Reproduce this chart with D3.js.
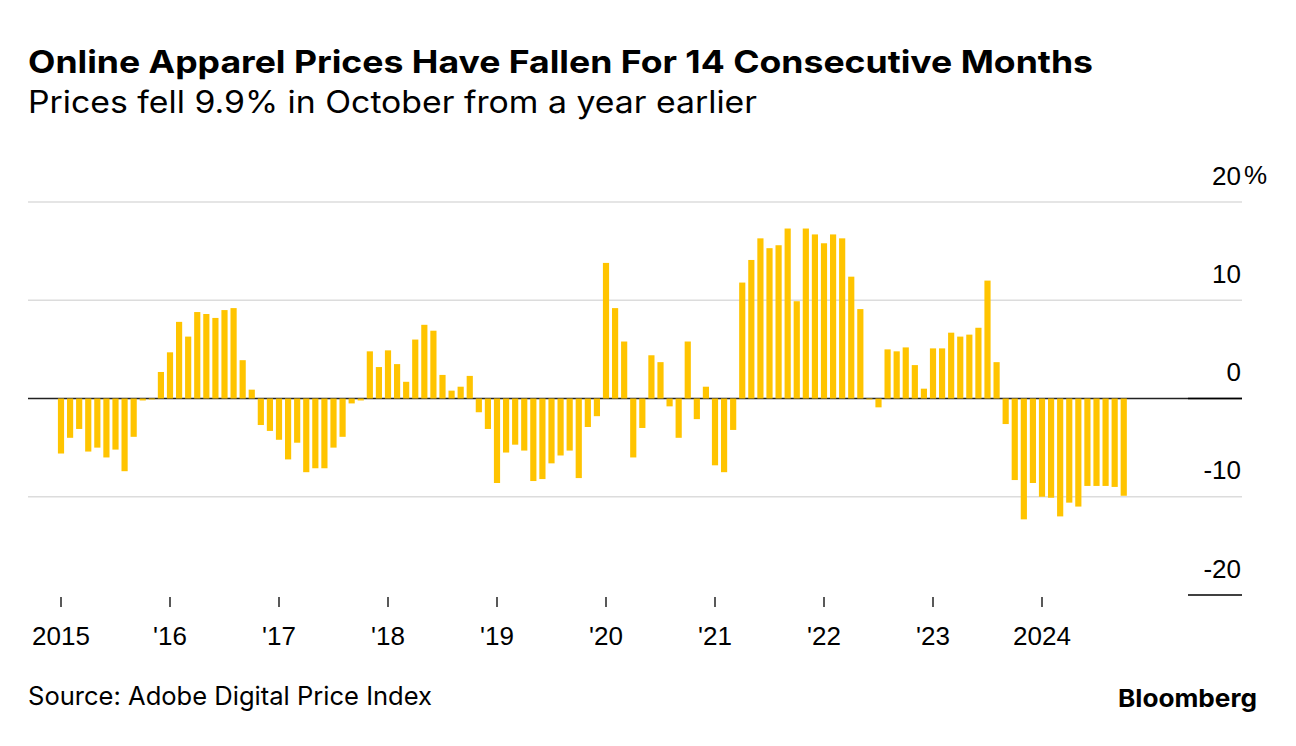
<!DOCTYPE html>
<html>
<head>
<meta charset="utf-8">
<script src="https://cdn.jsdelivr.net/npm/d3@7"></script>
<style>
  html, body { margin: 0; padding: 0; background: #fff; }
  svg { display: block; }
</style>
</head>
<body>
<svg id="chart" width="1296" height="746"></svg>
<script>
// ---------------- DATA ----------------
const titleText = "Online Apparel Prices Have Fallen For 14 Consecutive Months";
const subtitleText = "Prices fell 9.9% in October from a year earlier";
const sourceText = "Source: Adobe Digital Price Index";
const brandText = "Bloomberg";

// Monthly YoY % change, Jan 2015 .. Oct 2024
const firstMonth = "2015-01";
const changePct = [
  // 2015
  -5.6, -4.0, -3.1, -5.4, -5.0, -6.0, -5.2, -7.4, -3.9, -0.2, -0.1, 2.7,
  // 2016
  4.7, 7.8, 6.3, 8.8, 8.6, 8.2, 9.0, 9.2, 3.9, 0.9, -2.7, -3.3,
  // 2017
  -4.2, -6.2, -4.5, -7.5, -7.1, -7.1, -5.0, -3.9, -0.5, -0.2, 4.8, 3.2,
  // 2018
  4.9, 3.5, 1.7, 6.0, 7.5, 6.9, 2.4, 0.8, 1.2, 2.3, -1.4, -3.1,
  // 2019
  -8.6, -5.5, -4.7, -5.3, -8.4, -8.2, -6.6, -5.8, -5.3, -8.1, -2.9, -1.8,
  // 2020
  13.8, 9.2, 5.8, -6.0, -3.0, 4.4, 3.7, -0.8, -4.0, 5.8, -2.1, 1.2,
  // 2021
  -6.8, -7.5, -3.2, 11.8, 14.1, 16.3, 15.3, 15.6, 17.3, 9.9, 17.3, 16.7,
  // 2022
  15.8, 16.7, 16.3, 12.4, 9.1, -0.1, -0.9, 5.0, 4.8, 5.2, 3.4, 1.0,
  // 2023
  5.1, 5.1, 6.7, 6.3, 6.5, 7.2, 12.0, 3.7, -2.6, -8.3, -12.3, -8.6,
  // 2024
  -10.0, -10.1, -12.0, -10.6, -11.0, -8.9, -8.9, -8.9, -9.0, -9.9
];

const xTickYears = [2015, 2016, 2017, 2018, 2019, 2020, 2021, 2022, 2023, 2024];
const xTickLabels = ["2015", "'16", "'17", "'18", "'19", "'20", "'21", "'22", "'23", "2024"];
const yTickValues = [20, 10, 0, -10, -20];
const yTickLabels = ["20", "10", "0", "-10", "-20"];

// ---------------- LAYOUT ----------------
const svg = d3.select("#chart");
const plotLeft = 28, plotRight = 1242;
const barColor = "#FFC400";
const fontUI = "Inter, 'Liberation Sans', Arial, sans-serif";
const fontAxis = "'Liberation Sans', Arial, sans-serif";

const startYear = +firstMonth.slice(0, 4);
const monthIndex = (year) => (year - startYear) * 12;

const x = d3.scaleLinear()
  .domain([monthIndex(2015), monthIndex(2024)])
  .range([61, 1042]);
const step = x(1) - x(0);
const barW = step * 0.68;

const y = d3.scaleLinear().domain([-20, 20]).range([595, 202]);

// Title / subtitle
svg.append("text")
  .attr("x", 28).attr("y", 73)
  .attr("font-family", fontUI).attr("font-weight", 700).attr("font-size", 31.5)
  .attr("fill", "#000")
  .attr("textLength", 1065).attr("lengthAdjust", "spacingAndGlyphs")
  .text(titleText);

svg.append("text")
  .attr("x", 28).attr("y", 112.5)
  .attr("font-family", fontUI).attr("font-weight", 400).attr("font-size", 30.5)
  .attr("fill", "#000")
  .attr("textLength", 729).attr("lengthAdjust", "spacingAndGlyphs")
  .text(subtitleText);

// Gridlines
const gridVals = yTickValues.filter(v => v !== 0 && v !== -20);
svg.append("g").selectAll("line").data(gridVals).join("line")
  .attr("x1", plotLeft).attr("x2", plotRight)
  .attr("y1", d => y(d)).attr("y2", d => y(d))
  .attr("stroke", "#dcdcdc").attr("stroke-width", 1.5);

// Zero line
svg.append("line")
  .attr("x1", plotLeft).attr("x2", plotRight)
  .attr("y1", y(0)).attr("y2", y(0))
  .attr("stroke", "#222").attr("stroke-width", 1.5);

// Short marker line at bottom tick and zero
svg.append("g").selectAll("line").data([0, -20]).join("line")
  .attr("x1", 1188).attr("x2", plotRight)
  .attr("y1", d => y(d)).attr("y2", d => y(d))
  .attr("stroke", "#000").attr("stroke-width", 1.5);

// Bars
svg.append("g").selectAll("rect").data(changePct).join("rect")
  .attr("x", (d, i) => x(i) - barW / 2)
  .attr("width", barW)
  .attr("y", d => Math.min(y(d), y(0)))
  .attr("height", d => Math.abs(y(d) - y(0)))
  .attr("fill", barColor);

// Y-axis labels (right, above gridlines)
const yLab = svg.append("g")
  .attr("font-family", fontAxis).attr("font-size", 26).attr("fill", "#000");
yLab.selectAll("text").data(yTickValues).join("text")
  .attr("x", plotRight - 1)
  .attr("y", d => y(d) - 17.5)
  .attr("text-anchor", "end")
  .text((d, i) => yTickLabels[i]);
yLab.append("text")
  .attr("x", plotRight + 2).attr("y", y(20) - 18.5)
  .text("%");

// X-axis ticks and labels
const xAxis = svg.append("g");
xAxis.selectAll("line").data(xTickYears).join("line")
  .attr("x1", d => x(monthIndex(d))).attr("x2", d => x(monthIndex(d)))
  .attr("y1", 597).attr("y2", 607)
  .attr("stroke", "#222").attr("stroke-width", 1.5);
xAxis.selectAll("text").data(xTickYears).join("text")
  .attr("x", d => x(monthIndex(d)))
  .attr("y", 645)
  .attr("text-anchor", "middle")
  .attr("font-family", fontAxis).attr("font-size", 26).attr("fill", "#000")
  .text((d, i) => xTickLabels[i]);

// Footer
svg.append("text")
  .attr("x", 28).attr("y", 705)
  .attr("font-family", fontUI).attr("font-size", 25.5).attr("fill", "#000")
  .attr("textLength", 404).attr("lengthAdjust", "spacingAndGlyphs")
  .text(sourceText);

svg.append("text")
  .attr("x", 1118).attr("y", 707)
  .attr("font-family", fontUI).attr("font-weight", 700).attr("font-size", 24.5).attr("fill", "#000")
  .attr("textLength", 139).attr("lengthAdjust", "spacingAndGlyphs")
  .text(brandText);
</script>
</body>
</html>
